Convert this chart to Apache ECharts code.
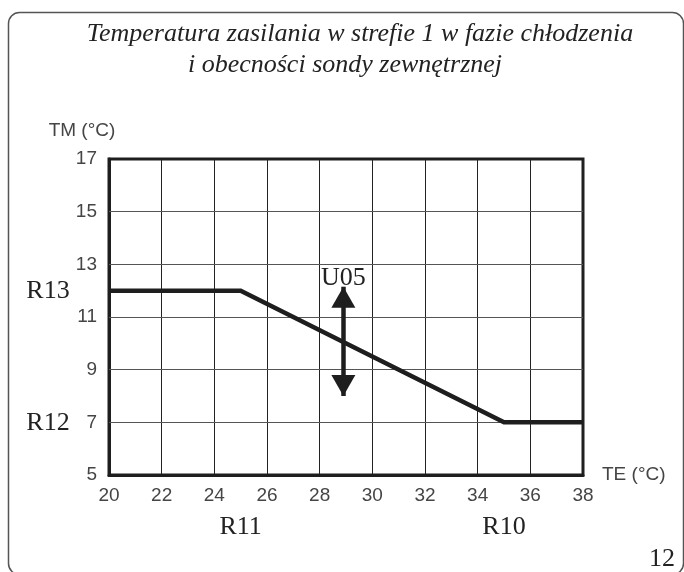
<!DOCTYPE html>
<html><head><meta charset="utf-8">
<script src="https://cdn.jsdelivr.net/npm/echarts@6/dist/echarts.min.js"></script>
<style>html,body{margin:0;padding:0;background:#fff}#c{width:684px;height:572px}</style>
</head><body><div id="c"></div>
<script>
// ---- data ----
const titleLines = ['Temperatura zasilania w strefie 1 w fazie chłodzenia', 'i obecności sondy zewnętrznej'];
const xTicks = [20, 22, 24, 26, 28, 30, 32, 34, 36, 38];
const yTicks = [5, 7, 9, 11, 13, 15, 17];
const teValues = [20, 25, 35, 38];
const tmValues = [12, 12, 7, 7];
const arrowX = 28.9;
const arrowLow = 8.0;
const arrowHigh = 12.15;
const arrowLabel = 'U05';
const xAxisName = 'TE (°C)';
const yAxisName = 'TM (°C)';
const paramNames = ['R13', 'R12', 'R11', 'R10'];
const paramAxes = ['y', 'y', 'x', 'x'];
const paramValues = [12, 7, 25, 35];
const pageNumber = '12';

const chart = echarts.init(document.getElementById('c'), null, {renderer: 'canvas'});
const INK = '#1e1e1e';
const tickFont = {fontFamily: 'Liberation Sans', fontSize: 19, color: '#454545'};
const serif = 'Liberation Serif';

const option = {
  animation: false,
  backgroundColor: '#fff',
  title: [
    {text: titleLines[0], left: 355, top: 16, textAlign: 'center',
     textStyle: {fontFamily: serif, fontStyle: 'italic', fontWeight: 'normal', fontSize: 26, color: '#222'}},
    {text: titleLines[1], left: 340, top: 47, textAlign: 'center',
     textStyle: {fontFamily: serif, fontStyle: 'italic', fontWeight: 'normal', fontSize: 26, color: '#222'}}
  ],
  grid: {left: 109, top: 159, right: 101, bottom: 97, show: true, borderColor: INK, borderWidth: 3, containLabel: false},
  xAxis: {
    type: 'value', min: xTicks[0], max: xTicks[xTicks.length - 1], interval: 2,
    name: xAxisName, nameLocation: 'end', nameGap: 19,
    nameTextStyle: Object.assign({}, tickFont, {fontSize: 19}),
    axisLine: {show: true, lineStyle: {color: INK, width: 3}},
    axisTick: {show: false},
    axisLabel: Object.assign({margin: 11, formatter: v => xTicks.includes(v) ? String(v) : ''}, tickFont),
    splitLine: {show: true, lineStyle: {color: '#222', width: 1}}
  },
  yAxis: {
    type: 'value', min: yTicks[0], max: yTicks[yTicks.length - 1], interval: 1,
    axisLine: {show: true, lineStyle: {color: INK, width: 3}},
    axisTick: {show: false},
    axisLabel: Object.assign({margin: 12, formatter: v => yTicks.includes(v) ? String(v) : ''}, tickFont),
    splitLine: {show: false}
  },
  series: [
    {
      type: 'line', data: [], silent: true,
      markLine: {
        silent: true, symbol: 'none', animation: false,
        label: {show: false},
        lineStyle: {color: '#555', width: 1, type: 'solid'},
        data: yTicks.slice(1, -1).map(v => ({yAxis: v}))
      }
    },
    {
      type: 'line', silent: true, symbol: 'none', z: 5,
      data: teValues.map((x, i) => [x, tmValues[i]]),
      lineStyle: {color: INK, width: 4.5, cap: 'butt', join: 'miter'}
    },
    {
      type: 'line', data: [], silent: true, z: 6,
      markLine: {
        silent: true, animation: false,
        symbol: ['triangle', 'triangle'], symbolSize: [24, 21],
        symbolOffset: [[0, 10.5], [0, 10.5]],
        lineStyle: {color: INK, width: 4.5, type: 'solid'},
        itemStyle: {color: INK},
        label: {show: true, position: 'end', formatter: arrowLabel, distance: -4,
                fontFamily: serif, fontSize: 26, color: '#222'},
        data: [[{coord: [arrowX, arrowLow]}, {coord: [arrowX, arrowHigh]}]]
      }
    }
  ]
};
chart.setOption(option);

// annotations placed through the chart's own scales
const gfx = [];
gfx.push({type: 'rect', silent: true, z: -1,
  shape: {x: 8.5, y: 12.5, width: 675, height: 562, r: 11},
  style: {fill: 'none', stroke: '#555', lineWidth: 1.5}});
const yTop = chart.convertToPixel({gridIndex: 0}, [xTicks[0], yTicks[yTicks.length - 1]]);
gfx.push({type: 'text', silent: true, x: yTop[0] - 27, y: yTop[1] - 28,
  style: {text: yAxisName, fontFamily: tickFont.fontFamily, fontSize: 19, fill: tickFont.color, align: 'center', verticalAlign: 'middle'}});
paramNames.forEach((name, i) => {
  let x, y;
  if (paramAxes[i] === 'y') {
    const p = chart.convertToPixel({gridIndex: 0}, [xTicks[0], paramValues[i]]);
    x = 48; y = p[1] + 1;
  } else {
    const p = chart.convertToPixel({gridIndex: 0}, [paramValues[i], yTicks[0]]);
    x = p[0]; y = p[1] + 52;
  }
  gfx.push({type: 'text', silent: true, x: x, y: y,
    style: {text: name, fontFamily: serif, fontSize: 26, fill: '#222', align: 'center', verticalAlign: 'middle'}});
});
gfx.push({type: 'text', silent: true, x: 662, y: 559,
  style: {text: pageNumber, fontFamily: serif, fontSize: 26, fill: '#222', align: 'center', verticalAlign: 'middle'}});
chart.setOption({graphic: gfx});
</script>
</body></html>
